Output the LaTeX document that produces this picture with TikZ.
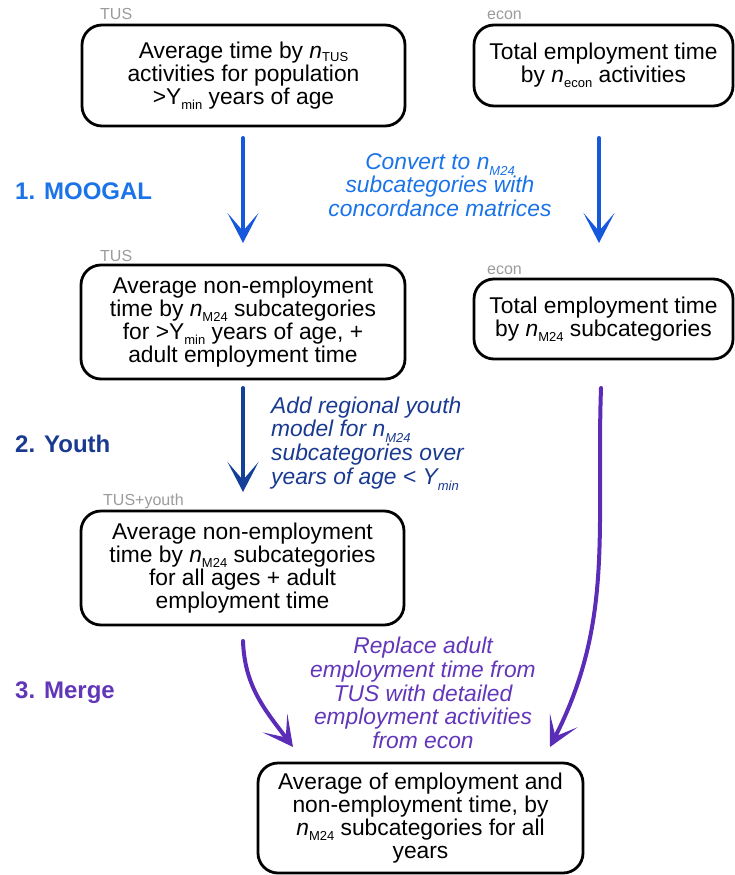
\documentclass[tikz,border=0pt]{standalone}
\usepackage{fontspec}
\setmainfont{Liberation Sans}
\usetikzlibrary{arrows.meta}
\definecolor{tagGray}{RGB}{155,155,155}
\definecolor{stOneText}{RGB}{26,115,232}
\definecolor{stOneArrow}{RGB}{22,88,220}
\definecolor{stTwoText}{RGB}{26,58,145}
\definecolor{stTwoArrow}{RGB}{20,64,152}
\definecolor{stThreeText}{RGB}{98,54,184}
\definecolor{stThreeArrow}{RGB}{90,44,184}
\newcommand\lo[2][-5pt]{\raisebox{#1}{\fontsize{13}{13}\selectfont #2}}
\newcommand\loit[1]{\raisebox{-6pt}{\fontsize{13}{13}\selectfont\itshape #1}}
\begin{document}
\begin{tikzpicture}[x=1pt,y=1pt,
  box/.style={draw=black, line width=2.8pt, rounded corners=20pt, align=center, inner sep=0pt,
    font=\fontsize{22.8}{22.8}\selectfont},
  tag/.style={text=tagGray, font=\fontsize{16}{16}\selectfont, anchor=base west, inner sep=0pt},
  stage/.style={font=\bfseries\fontsize{24}{24}\selectfont, anchor=base west, inner sep=0pt},
  note/.style={font=\itshape\fontsize{22.8}{23.6}\selectfont, inner sep=0pt},
  flow/.style={line width=4pt, line cap=round, -{Stealth[length=30pt,width=31pt,inset=18pt]}}
]
\useasboundingbox (0,0) rectangle (734,-875);

% gray source tags
\node[tag] (tagA) at (100,-20) {TUS};
\node[tag] (tagB) at (487,-20) {econ};
\node[tag] (tagC) at (100,-261) {TUS};
\node[tag] (tagD) at (487,-274) {econ};
\node[tag] (tagE) at (103,-505) {TUS+youth};

% boxes
\node[box, minimum width=323pt, minimum height=101pt] (tusA) at (243.5,-75.5)
  {Average time by \textit{n}\lo[-3pt]{TUS}\\activities for population\\>Y\lo{min} years of age};
\node[box, minimum width=259pt, minimum height=81pt] (econA) at (603.5,-65.5)
  {Total employment time\\by \textit{n}\lo{econ} activities};
\node[box, minimum width=324pt, minimum height=114pt] (tusB) at (243,-322)
  {Average non-employment\\time by \textit{n}\lo{M24} subcategories\\for >Y\lo{min} years of age, +\\adult employment time};
\node[box, minimum width=259pt, minimum height=80pt] (econB) at (603.5,-319)
  {Total employment time\\by \textit{n}\lo{M24} subcategories};
\node[box, minimum width=323pt, minimum height=114pt] (youthC) at (242.5,-568)
  {Average non-employment\\time by \textit{n}\lo{M24} subcategories\\for all ages + adult\\employment time};
\node[box, minimum width=325pt, minimum height=110pt] (merged) at (420.5,-818)
  {Average of employment and\\non-employment time, by\\\textit{n}\lo{M24} subcategories for all\\years};

% stage labels
\node[stage, text=stOneText] (stOne) at (15,-199) {1. MOOGAL};
\node[stage, text=stTwoText] (stTwo) at (15,-452) {2. Youth};
\node[stage, text=stThreeText] (stThree) at (15,-698) {3. Merge};

% notes
\node[note, text=stOneText, align=center] (noteOne) at (440,-185)
  {Convert to n\loit{M24}\\subcategories with\\concordance matrices};
\node[note, text=stTwoText, align=left, anchor=west] (noteTwo) at (271,-443.5)
  {Add regional youth\\model for n\loit{M24}\\subcategories over\\years of age < Y\loit{min}};
\node[note, text=stThreeText, align=center] (noteThree) at (423,-693)
  {Replace adult\\employment time from\\TUS with detailed\\employment activities\\from econ};

% arrow end points
\coordinate (a1s) at (243,-138);
\coordinate (a1e) at (243,-243);
\coordinate (a2s) at (599,-138);
\coordinate (a2e) at (599,-243);
\coordinate (a3s) at (243,-388);
\coordinate (a3e) at (243,-492);
\coordinate (a4s) at (243,-641);
\coordinate (a4e) at (293,-747);
\coordinate (a5s) at (601,-388);
\coordinate (a5e) at (550,-747);

\draw[flow, draw=stOneArrow, fill=stOneArrow] (a1s) -- (a1e);
\draw[flow, draw=stOneArrow, fill=stOneArrow] (a2s) -- (a2e);
\draw[flow, draw=stTwoArrow, fill=stTwoArrow] (a3s) -- (a3e);
\draw[flow, draw=stThreeArrow] (a4s) to[out=-88, in=127] (a4e);
\draw[flow, draw=stThreeArrow] (a5s) to[out=-92, in=63] (a5e);
\end{tikzpicture}
\end{document}
